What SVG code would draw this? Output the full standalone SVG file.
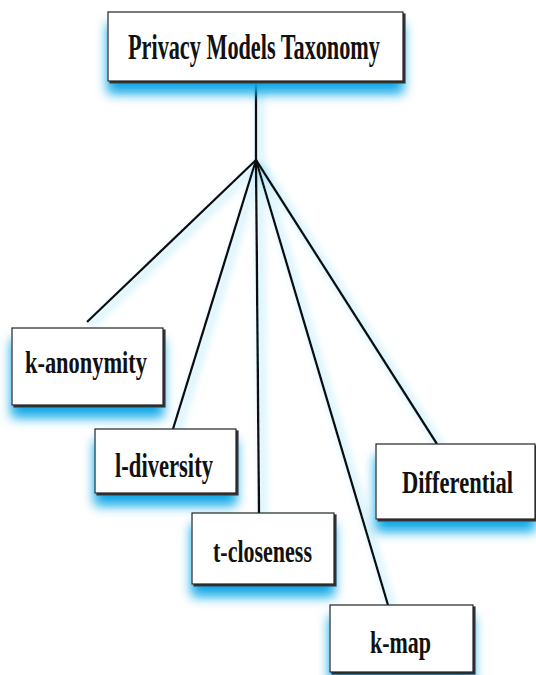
<svg xmlns="http://www.w3.org/2000/svg" width="536" height="675" viewBox="0 0 536 675">
<defs>
<filter id="glow" x="-20%" y="-30%" width="140%" height="190%">
<feGaussianBlur in="SourceAlpha" stdDeviation="6" result="b"/>
<feOffset in="b" dx="0" dy="12" result="o"/>
<feFlood flood-color="#0aa6e6" result="c"/>
<feComposite in="c" in2="o" operator="in" result="s"/>
<feOffset in="SourceAlpha" dx="1.5" dy="1.5" result="d"/>
<feFlood flood-color="#333" result="dc"/>
<feComposite in="dc" in2="d" operator="in" result="ds"/>
<feMerge><feMergeNode in="s"/><feMergeNode in="ds"/><feMergeNode in="SourceGraphic"/></feMerge>
</filter>
<filter id="lglow" x="-50%" y="-10%" width="200%" height="120%">
<feGaussianBlur in="SourceAlpha" stdDeviation="4" result="b"/>
<feOffset in="b" dx="4" dy="3" result="o"/>
<feFlood flood-color="#7fd6f3" result="c"/>
<feComposite in="c" in2="o" operator="in" result="s"/>
<feMerge><feMergeNode in="s"/><feMergeNode in="SourceGraphic"/></feMerge>
</filter>
</defs>
<style>
.box{fill:#fff;stroke:#222;stroke-width:1.2;filter:url(#glow)}
.t{font-family:"Liberation Serif","Times New Roman",serif;font-weight:bold;fill:#111;text-anchor:start}
.ln{stroke:#111;stroke-width:2.4;fill:none}
</style>
<rect width="536" height="675" fill="#fff"/>
<g id="connectors" filter="url(#lglow)">
<line class="ln" x1="256" y1="81" x2="256" y2="160"/>
<line class="ln" x1="256" y1="160" x2="87" y2="322"/>
<line class="ln" x1="256" y1="160" x2="173" y2="429"/>
<line class="ln" x1="256" y1="160" x2="259" y2="513"/>
<line class="ln" x1="256" y1="160" x2="388" y2="605"/>
<line class="ln" x1="256" y1="160" x2="437" y2="444"/>
</g>
<g id="root">
<rect class="box" x="108" y="12" width="295" height="69"/>
<text class="t" x="128" y="59" font-size="35" textLength="252" lengthAdjust="spacingAndGlyphs">Privacy Models Taxonomy</text>
</g>
<g id="k-anonymity">
<rect class="box" x="12" y="328" width="151" height="77"/>
<text class="t" x="25" y="373" font-size="32" textLength="122" lengthAdjust="spacingAndGlyphs">k-anonymity</text>
</g>
<g id="l-diversity">
<rect class="box" x="95" y="429" width="141" height="64"/>
<text class="t" x="115" y="477" font-size="33" textLength="98" lengthAdjust="spacingAndGlyphs">l-diversity</text>
</g>
<g id="t-closeness">
<rect class="box" x="192" y="513" width="142" height="71"/>
<text class="t" x="213" y="562" font-size="32" textLength="99" lengthAdjust="spacingAndGlyphs">t-closeness</text>
</g>
<g id="k-map">
<rect class="box" x="330" y="605" width="143" height="67"/>
<text class="t" x="370" y="653" font-size="32" textLength="61" lengthAdjust="spacingAndGlyphs">k-map</text>
</g>
<g id="differential">
<rect class="box" x="376" y="444" width="159" height="75"/>
<text class="t" x="402" y="493" font-size="32" textLength="111" lengthAdjust="spacingAndGlyphs">Differential</text>
</g>
</svg>
